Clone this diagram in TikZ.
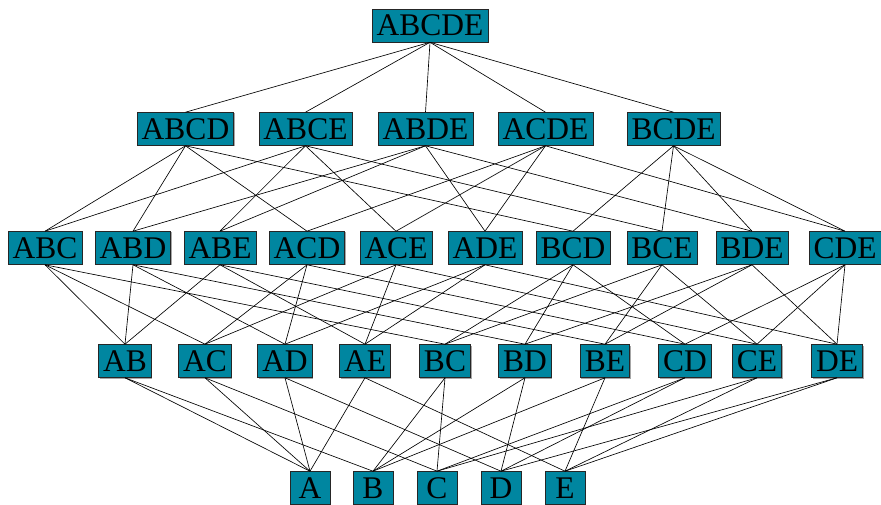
\documentclass[tikz,border=0pt]{standalone}
\usepackage{fontspec}
\setmainfont{Liberation Serif}
\usetikzlibrary{shadows}
\definecolor{boxfill}{RGB}{0,134,160}
\tikzset{
  setbox/.style={draw=black!85, line width=0.6pt, fill=boxfill,
    minimum height=33pt, minimum width=40pt, inner xsep=4.5pt, inner ysep=0pt,
    font=\fontsize{31.5}{36}\selectfont,
    drop shadow={shadow xshift=1pt, shadow yshift=-1pt, fill=black!35, opacity=1}},
  link/.style={draw=black, line width=0.65pt}
}
\begin{document}
\begin{tikzpicture}[x=1pt,y=-1pt]
\useasboundingbox (0,0) rectangle (881,505);
% level 5
\node[setbox] (ABCDE) at (430,25.5) {ABCDE};
% level 4
\foreach \n/\x in {ABCD/185.5, ABCE/305.5, ABDE/425.5, ACDE/545.5, BCDE/673.5}
  \node[setbox] (\n) at (\x,129) {\n};
% level 3
\foreach \n/\x in {ABC/45, ABD/133, ABE/220, ACD/307, ACE/396, ADE/485, BCD/573, BCE/662, BDE/752, CDE/845}
  \node[setbox] (\n) at (\x,248) {\n};
% level 2
\foreach \n/\x in {AB/125, AC/205, AD/285, AE/365, BC/445, BD/525, BE/605, CD/685, CE/757, DE/837}
  \node[setbox] (\n) at (\x,361) {\n};
% level 1
\foreach \n/\x in {A/310, B/373, C/437, D/501, E/565}
  \node[setbox] (\n) at (\x,488) {\n};
% covering relations
\foreach \p/\c in {
  ABCDE/ABCD, ABCDE/ABCE, ABCDE/ABDE, ABCDE/ACDE, ABCDE/BCDE,
  ABCD/ABC, ABCD/ABD, ABCD/ACD, ABCD/BCD,
  ABCE/ABC, ABCE/ABE, ABCE/ACE, ABCE/BCE,
  ABDE/ABD, ABDE/ABE, ABDE/ADE, ABDE/BDE,
  ACDE/ACD, ACDE/ACE, ACDE/ADE, ACDE/CDE,
  BCDE/BCD, BCDE/BCE, BCDE/BDE, BCDE/CDE,
  ABC/AB, ABC/AC, ABC/BC, ABD/AB, ABD/AD, ABD/BD,
  ABE/AB, ABE/AE, ABE/BE, ACD/AC, ACD/AD, ACD/CD,
  ACE/AC, ACE/AE, ACE/CE, ADE/AD, ADE/AE, ADE/DE,
  BCD/BC, BCD/BD, BCD/CD, BCE/BC, BCE/BE, BCE/CE,
  BDE/BD, BDE/BE, BDE/DE, CDE/CD, CDE/CE, CDE/DE,
  AB/A, AB/B, AC/A, AC/C, AD/A, AD/D, AE/A, AE/E,
  BC/B, BC/C, BD/B, BD/D, BE/B, BE/E, CD/C, CD/D, CE/C, CE/E, DE/D, DE/E}
  \draw[link] (\p.south) -- (\c.north);
\end{tikzpicture}
\end{document}
